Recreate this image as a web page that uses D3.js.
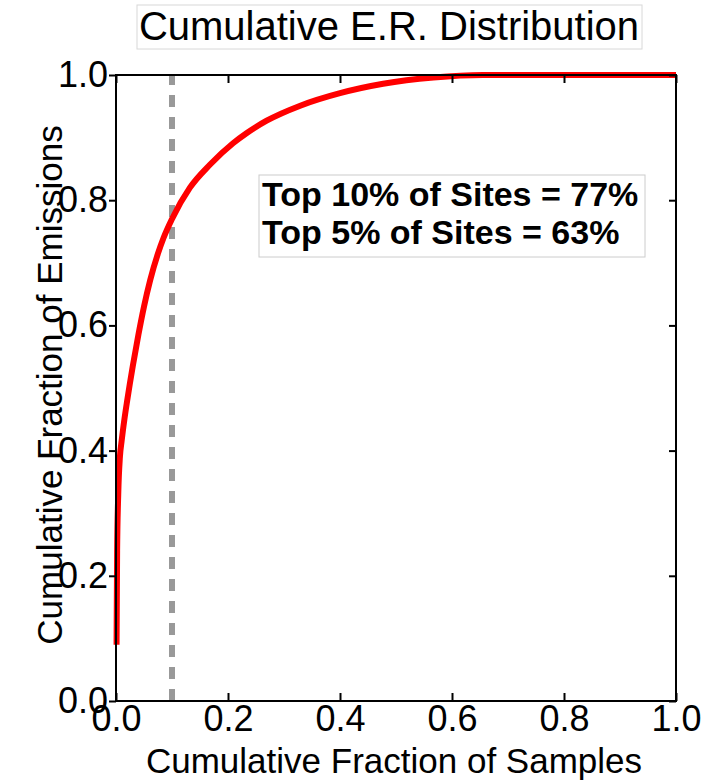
<!DOCTYPE html>
<html>
<head>
<meta charset="utf-8">
<script src="https://cdn.jsdelivr.net/npm/d3@7"></script>
<style>
  html, body { margin: 0; padding: 0; background: #fff; }
  svg { display: block; font-family: "Liberation Sans", Arial, sans-serif; }
</style>
</head>
<body>
<svg id="chart" width="725" height="784"></svg>
<script>
// Cumulative fraction of samples (sites ranked by emission rate, largest first)
const sampleFraction = [0.001, 0.002, 0.004, 0.007, 0.010, 0.015, 0.020, 0.030, 0.040, 0.050,
  0.061, 0.075, 0.085, 0.100, 0.132, 0.168, 0.209, 0.233, 0.269, 0.329, 0.400, 0.477, 0.567,
  0.655, 0.750, 0.850, 1.000];
// Cumulative fraction of total emissions
const emissionFraction = [0.09, 0.24, 0.33, 0.39, 0.415, 0.45, 0.48, 0.535, 0.585, 0.63,
  0.672, 0.715, 0.74, 0.77, 0.82, 0.857, 0.891, 0.907, 0.927, 0.951, 0.971, 0.986, 0.996,
  1.0, 1.0, 1.0, 1.0];
const xTicks = [0, 0.2, 0.4, 0.6, 0.8, 1.0];
const yTicks = [0, 0.2, 0.4, 0.6, 0.8, 1.0];
const markerX = 0.1;
const summaryLines = ["Top 10% of Sites = 77%", "Top 5% of Sites = 63%"];
const titleText = "Cumulative E.R. Distribution";
const xTitle = "Cumulative Fraction of Samples";
const yTitle = "Cumulative Fraction of Emissions";

const svg = d3.select("#chart");
const plotLeft = 116, plotRight = 676, plotTop = 75, plotBottom = 701;

const x = d3.scaleLinear().domain([0, 1]).range([plotLeft, plotRight]);
const y = d3.scaleLinear().domain([0, 1]).range([plotBottom, plotTop]);
const fmt = d3.format(".1f");

// Title box
const titleG = svg.append("g");
titleG.append("rect")
  .attr("x", 137).attr("y", 5).attr("width", 505).attr("height", 44)
  .attr("fill", "#fff").attr("stroke", "#d8d8d8").attr("stroke-width", 1);
titleG.append("text")
  .attr("x", 389).attr("y", 40)
  .attr("text-anchor", "middle")
  .attr("font-size", 40)
  .attr("fill", "#000")
  .text(titleText);

// Dashed marker at top 10% of samples
svg.append("line")
  .attr("x1", x(markerX)).attr("x2", x(markerX))
  .attr("y1", y(0)).attr("y2", y(1))
  .attr("stroke", "#999").attr("stroke-width", 6)
  .attr("stroke-dasharray", "12,10");

// Cumulative distribution curve
const pts = sampleFraction.map((d, i) => [d, emissionFraction[i]]);
svg.append("path")
  .datum(pts)
  .attr("fill", "none")
  .attr("stroke", "#ff0000")
  .attr("stroke-width", 6)
  .attr("stroke-linejoin", "round")
  .attr("d", d3.line().x(d => x(d[0])).y(d => y(d[1])).curve(d3.curveMonotoneX));

// Axes
const axisStyle = g => {
  g.select(".domain").remove();
  g.selectAll(".tick line").attr("stroke", "#000").attr("stroke-width", 2);
  g.selectAll(".tick text").attr("fill", "#000").attr("font-size", 36)
    .attr("font-family", "'Liberation Sans', Arial, sans-serif");
};

svg.append("g")
  .attr("transform", `translate(0,${plotBottom})`)
  .call(d3.axisBottom(x).tickValues(xTicks).tickFormat(fmt).tickSizeInner(-8).tickSizeOuter(0).tickPadding(4))
  .call(axisStyle);

svg.append("g")
  .attr("transform", `translate(0,${plotTop})`)
  .call(d3.axisTop(x).tickValues(xTicks).tickFormat("").tickSizeInner(-8).tickSizeOuter(0))
  .call(axisStyle);

svg.append("g")
  .attr("transform", `translate(${plotLeft},0)`)
  .call(d3.axisLeft(y).tickValues(yTicks).tickFormat(fmt).tickSizeInner(7).tickSizeOuter(0).tickPadding(1))
  .call(axisStyle);

svg.append("g")
  .attr("transform", `translate(${plotRight},0)`)
  .call(d3.axisRight(y).tickValues(yTicks).tickFormat("").tickSizeInner(-7).tickSizeOuter(0))
  .call(axisStyle);

// Plot frame
svg.append("rect")
  .attr("x", plotLeft).attr("y", plotTop)
  .attr("width", plotRight - plotLeft).attr("height", plotBottom - plotTop)
  .attr("fill", "none").attr("stroke", "#000").attr("stroke-width", 2);

// Axis titles
svg.append("text")
  .attr("x", 394).attr("y", 773)
  .attr("text-anchor", "middle")
  .attr("font-size", 35)
  .text(xTitle);

svg.append("text")
  .attr("transform", "translate(62,385) rotate(-90)")
  .attr("text-anchor", "middle")
  .attr("font-size", 35)
  .text(yTitle);

// Summary box
const box = svg.append("g");
box.append("rect")
  .attr("x", 259).attr("y", 175).attr("width", 386).attr("height", 82)
  .attr("fill", "#fff").attr("stroke", "#cccccc").attr("stroke-width", 1);
box.selectAll("text.summary")
  .data(summaryLines)
  .join("text")
  .attr("class", "summary")
  .attr("x", 262)
  .attr("y", (d, i) => 206 + i * 38)
  .attr("font-size", 34)
  .attr("font-weight", "bold")
  .attr("fill", "#000")
  .text(d => d);
</script>
</body>
</html>
